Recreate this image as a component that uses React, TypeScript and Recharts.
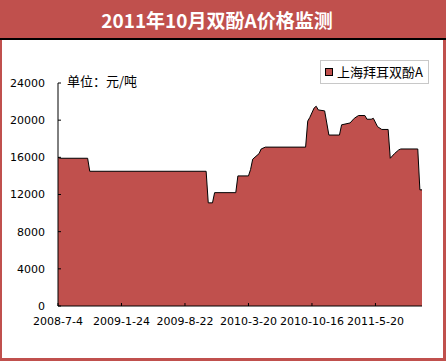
import React from 'react';
import { AreaChart, Area, XAxis, YAxis, Legend } from 'recharts';

const weekIdx = [0, 1, 14, 15, 70, 71, 73, 74, 84, 85, 90, 91, 92, 95, 96, 98, 117, 118, 119, 121, 122, 123, 126, 128, 133, 134, 138, 140, 142, 145, 146, 148, 149, 151, 153, 156, 157, 159, 161, 162, 170, 171, 172];
const prices = [16000, 15900, 15900, 14500, 14500, 11100, 11100, 12200, 12200, 14000, 14000, 14700, 15800, 16400, 16900, 17100, 17100, 19900, 20300, 21300, 21500, 21100, 21000, 18400, 18400, 19500, 19700, 20200, 20500, 20500, 20100, 20100, 20200, 19300, 19000, 19000, 15900, 16400, 16800, 16900, 16900, 12500, 12500];
const xTickIdx = [0, 30, 60, 90, 120, 150];
const xTickLabels = ['2008-7-4', '2009-1-24', '2009-8-22', '2010-3-20', '2010-10-16', '2011-5-20'];
const yTicks = [0, 4000, 8000, 12000, 16000, 20000, 24000];
const seriesName = '上海拜耳双酚A';
const title = '2011年10月双酚A价格监测';
const unitText = '单位：元/吨';

const data = weekIdx.map((w, i) => ({ idx: w, price: prices[i] }));

const RED = '#C0504D';
const CJK = '"Noto Sans CJK SC", "DejaVu Sans", sans-serif';
const NUM = '"DejaVu Sans", sans-serif';

const LegendContent = () => (
  <div
    style={{
      width: 107,
      height: 22,
      border: '1px solid #c8c8c8',
      background: '#fff',
      display: 'flex',
      alignItems: 'center',
      boxSizing: 'content-box',
    }}
  >
    <span
      style={{
        display: 'inline-block',
        width: 6,
        height: 6,
        background: RED,
        border: '1px solid #000',
        marginLeft: 4,
        marginRight: 4,
      }}
    />
    <span style={{ fontFamily: CJK, fontSize: 13, color: '#000', lineHeight: '22px' }}>{seriesName}</span>
  </div>
);

export default function App() {
  return (
    <div style={{ position: 'absolute', left: 0, top: 0, width: 446, height: 362, background: '#fff', overflow: 'hidden' }}>
      <div style={{ position: 'absolute', left: 0, top: 0, width: 446, height: 38, background: RED }} />
      <div
        style={{
          position: 'absolute',
          left: 0,
          top: 0,
          width: 434,
          height: 38,
          lineHeight: '40px',
          textAlign: 'center',
          color: '#fff',
          fontFamily: CJK,
          fontSize: 19,
          fontWeight: 'bold',
        }}
      >
        {title}
      </div>
      <div style={{ position: 'absolute', left: 0, top: 38, width: 446, height: 2, background: '#000' }} />
      <div style={{ position: 'absolute', left: 0, top: 40, width: 2, height: 321, background: RED }} />
      <div style={{ position: 'absolute', left: 443, top: 40, width: 3, height: 321, background: RED }} />
      <div style={{ position: 'absolute', left: 0, top: 358, width: 446, height: 3, background: RED }} />
      <div style={{ position: 'absolute', left: 0, top: 0 }}>
        <AreaChart width={446} height={362} data={data} margin={{ top: 83, right: 24, bottom: 26, left: 0 }}>
          <XAxis
            dataKey="idx"
            type="number"
            domain={[0, 172]}
            ticks={xTickIdx}
            interval={0}
            tickFormatter={(v: number) => xTickLabels[xTickIdx.indexOf(v)] ?? ''}
            axisLine={{ stroke: '#000', strokeWidth: 1 }}
            tickLine={{ stroke: '#000' }}
            tickSize={-3}
            tickMargin={14}
            height={30}
            tick={{ fill: '#000', fontSize: 11, fontFamily: NUM }}
          />
          <YAxis
            domain={[0, 24000]}
            ticks={yTicks}
            interval={0}
            width={58}
            axisLine={{ stroke: '#000', strokeWidth: 1 }}
            tickLine={{ stroke: '#000' }}
            tickSize={-3}
            tickMargin={16}
            tick={{ fill: '#000', fontSize: 11, fontFamily: NUM }}
          />
          <Legend
            verticalAlign="middle"
            align="center"
            layout="horizontal"
            wrapperStyle={{ position: 'absolute', left: 320, top: 60, width: 109, height: 24 }}
            content={() => <LegendContent />}
          />
          <Area
            type="linear"
            dataKey="price"
            name={seriesName}
            stroke="#000"
            strokeWidth={1}
            fill={RED}
            fillOpacity={1}
            isAnimationActive={false}
            dot={false}
            activeDot={false}
          />
        </AreaChart>
      </div>
      <div
        style={{
          position: 'absolute',
          left: 67,
          top: 72,
          fontFamily: CJK,
          fontSize: 13,
          lineHeight: '17px',
          color: '#000',
          whiteSpace: 'nowrap',
        }}
      >
        {unitText}
      </div>
    </div>
  );
}
